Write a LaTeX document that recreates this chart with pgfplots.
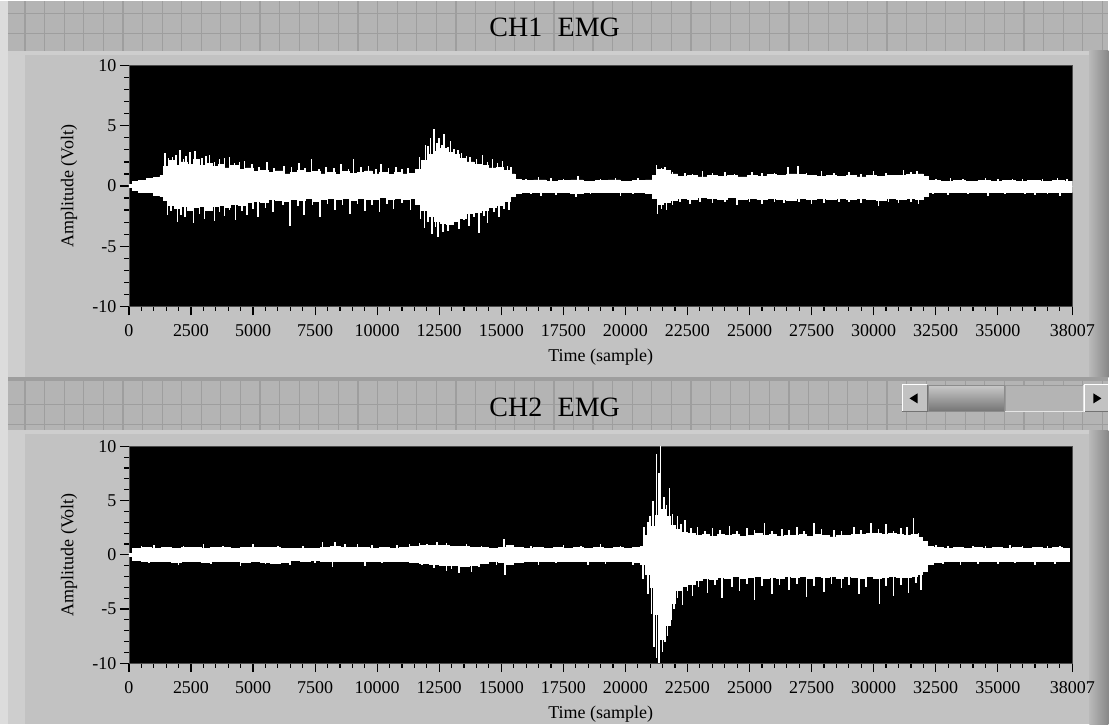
\documentclass[border=0pt]{standalone}
\usepackage{fontspec}
\setmainfont{Liberation Serif}
\usepackage{pgfplots}
\pgfplotsset{compat=1.18}
\usepackage{pgfplotstable}

\definecolor{band}{HTML}{B4B4B4}
\definecolor{gridln}{HTML}{9E9E9E}
\definecolor{panel}{HTML}{C2C2C2}
\definecolor{panelhi}{HTML}{CECECE}
\definecolor{edge}{HTML}{DCDCDC}

% CH1: core envelope of the trace (upper, lower) and individual spikes
\pgfplotstableread{
x up lo
0 0.15 -0.15
150 0.40 -0.35
400 0.45 -0.50
700 0.60 -0.55
1000 0.70 -0.75
1250 0.85 -0.90
1400 1.60 -1.20
1600 2.10 -1.60
1850 1.70 -1.90
2100 2.00 -1.70
2350 1.80 -2.00
2600 2.20 -1.80
2850 1.70 -1.70
3100 1.90 -2.00
3350 1.60 -1.70
3600 1.80 -1.60
3850 1.50 -1.80
4100 1.70 -1.50
4400 1.40 -1.60
4700 1.50 -1.40
5000 1.20 -1.30
5300 1.30 -1.40
5600 1.10 -1.10
5900 1.25 -1.20
6200 1.00 -1.30
6500 1.15 -1.10
6800 1.30 -1.20
7100 1.10 -1.00
7400 1.20 -1.25
7700 1.00 -1.10
8000 1.10 -1.00
8300 0.95 -1.15
8600 1.20 -1.05
8900 1.05 -1.20
9200 1.15 -1.00
9500 1.25 -1.15
9800 1.00 -1.10
10100 1.10 -0.95
10400 0.95 -1.10
10700 1.10 -1.00
11000 1.00 -1.15
11300 1.05 -1.05
11550 1.40 -1.50
11800 2.10 -2.00
12050 2.60 -2.50
12300 2.90 -2.90
12550 3.10 -3.10
12800 2.80 -3.20
13050 2.60 -2.90
13300 2.30 -2.70
13600 2.00 -2.30
13900 1.80 -2.20
14200 1.70 -2.00
14500 1.50 -1.80
14800 1.55 -1.60
15100 1.30 -1.30
15350 1.00 -0.90
15550 0.55 -0.60
15800 0.45 -0.55
16300 0.50 -0.50
16800 0.40 -0.55
17300 0.45 -0.50
17800 0.50 -0.60
18300 0.40 -0.50
18800 0.45 -0.55
19300 0.50 -0.50
19800 0.40 -0.55
20300 0.45 -0.50
20800 0.50 -0.60
21100 0.90 -1.00
21300 1.40 -1.50
21550 1.30 -1.40
21800 1.00 -1.20
22100 0.80 -1.00
22500 0.85 -1.10
22900 0.75 -0.95
23300 0.90 -1.05
23700 0.80 -1.15
24100 0.85 -0.95
24500 0.75 -1.10
24900 0.90 -1.00
25300 0.80 -1.15
25700 0.95 -1.05
26100 0.85 -1.10
26500 1.00 -1.20
26900 0.95 -1.05
27300 0.90 -1.15
27700 0.80 -1.00
28100 0.90 -1.10
28500 0.80 -1.05
28900 0.85 -1.15
29300 0.75 -1.00
29700 0.85 -1.10
30100 0.80 -1.20
30500 0.90 -1.05
30900 0.85 -1.10
31300 0.95 -1.00
31700 1.00 -1.10
32000 0.80 -0.90
32200 0.45 -0.55
32700 0.40 -0.50
33200 0.45 -0.55
33700 0.40 -0.50
34200 0.45 -0.55
34700 0.40 -0.50
35200 0.45 -0.55
35700 0.40 -0.50
36200 0.45 -0.55
36700 0.40 -0.50
37200 0.45 -0.55
37700 0.40 -0.50
38007 0.40 -0.50
}\chAcore

\pgfplotstableread{
x y
1450 2.7
1600 2.3
1750 2.4
1900 2.6
2050 3.0
2200 2.2
2300 2.5
2450 2.8
2650 2.9
2800 2.1
2950 2.3
3100 2.5
3250 2.6
3450 2.0
3650 2.2
3850 2.3
4050 2.4
4250 1.9
4450 2.0
4650 2.1
4950 1.8
5250 1.6
5550 2.0
5850 1.5
6250 1.7
6550 1.6
6850 1.9
7100 1.5
7350 2.2
7650 1.4
7950 1.6
8250 1.5
8550 1.8
8850 1.4
9050 2.2
9350 1.6
9650 1.7
9950 1.4
10150 1.8
10450 1.5
10750 1.6
11000 1.4
11250 1.5
11700 2.4
11950 3.4
12050 3.3
12150 4.0
12300 4.7
12400 3.6
12500 4.0
12600 3.4
12700 4.3
12850 3.2
12950 3.7
13100 3.1
13250 3.0
13400 2.7
13600 2.5
13750 2.4
14000 2.2
14250 2.6
14450 2.0
14650 2.2
14850 1.9
15050 2.1
15250 1.7
15400 1.6
16000 0.6
16500 0.75
17000 0.65
17500 0.6
18100 0.8
19000 0.6
19600 0.7
20500 0.65
21250 1.75
21450 1.5
21600 1.55
21900 1.2
22400 1.1
22700 1.0
23100 1.25
23500 1.05
24000 1.15
24400 1.0
25100 1.2
25500 1.05
26000 1.1
26550 1.55
26950 1.65
27300 1.1
27900 1.25
28400 1.05
29000 1.15
29500 1.0
30000 1.25
30500 1.1
31200 1.35
31500 1.15
31750 1.25
32500 0.55
33100 0.65
33600 0.55
34500 0.65
35000 0.6
35600 0.55
36000 0.6
36800 0.6
37400 0.7
37800 0.55
1550 -2.4
1700 -2.1
1950 -3.0
2100 -2.4
2250 -2.6
2450 -2.0
2600 -3.1
2850 -2.3
3050 -2.7
3250 -2.0
3450 -2.9
3650 -2.2
3850 -2.5
4050 -2.0
4300 -2.8
4550 -2.1
4750 -2.4
5000 -1.9
5200 -2.6
5500 -1.8
5800 -2.2
6200 -1.6
6500 -3.3
6800 -1.7
7050 -2.4
7400 -1.6
7700 -2.6
8000 -1.5
8300 -2.0
8600 -1.6
8900 -2.3
9200 -1.5
9500 -2.1
9800 -1.6
10100 -2.2
10400 -1.5
10650 -1.9
11000 -1.4
11350 -2.0
11750 -2.7
11900 -3.5
12050 -3.0
12200 -4.0
12350 -3.4
12450 -4.2
12650 -3.8
12850 -3.7
13050 -3.2
13300 -3.6
13500 -2.8
13700 -3.3
13900 -2.6
14100 -3.9
14300 -2.5
14450 -3.1
14700 -2.2
14900 -2.6
15100 -1.9
15300 -2.0
16200 -0.7
16600 -0.8
17200 -0.75
18000 -0.95
18600 -0.7
19800 -0.85
20300 -0.7
21300 -2.3
21450 -1.9
21650 -2.0
21900 -1.6
22200 -1.35
22600 -1.5
23000 -1.3
23500 -1.4
24000 -1.35
24500 -1.6
25000 -1.3
25500 -1.5
26000 -1.35
26400 -1.45
27000 -1.3
27500 -1.5
28000 -1.4
28600 -1.35
29000 -1.3
29500 -1.45
30200 -1.65
30600 -1.35
31000 -1.45
31500 -1.3
31800 -1.5
32400 -0.7
33000 -0.75
33800 -0.65
34600 -0.8
35300 -0.7
36100 -0.65
36500 -0.75
37000 -0.7
37500 -0.8
}\chAspk

% CH2: core envelope and spikes
\pgfplotstableread{
x up lo
0 0.15 -0.15
150 0.55 -0.55
500 0.65 -0.60
900 0.60 -0.65
1300 0.70 -0.60
1700 0.60 -0.70
2100 0.65 -0.60
2500 0.70 -0.65
2900 0.60 -0.70
3300 0.65 -0.60
3700 0.70 -0.65
4100 0.60 -0.65
4500 0.65 -0.70
4900 0.70 -0.60
5300 0.65 -0.70
5700 0.70 -0.75
6100 0.60 -0.70
6500 0.55 -0.55
6900 0.60 -0.60
7300 0.60 -0.55
7700 0.70 -0.60
8100 0.75 -0.65
8500 0.65 -0.60
8900 0.70 -0.65
9300 0.65 -0.60
9700 0.60 -0.65
10100 0.65 -0.60
10500 0.60 -0.65
10900 0.70 -0.60
11300 0.75 -0.70
11700 0.85 -0.75
12100 0.90 -0.85
12500 0.85 -0.95
12900 0.80 -1.00
13300 0.75 -1.05
13700 0.70 -0.95
14100 0.65 -0.80
14500 0.60 -0.65
14900 0.70 -0.70
15200 0.90 -0.90
15500 0.65 -0.70
15900 0.60 -0.60
16300 0.65 -0.65
16700 0.60 -0.60
17100 0.65 -0.65
17500 0.60 -0.60
17900 0.65 -0.65
18300 0.60 -0.60
18700 0.65 -0.65
19100 0.60 -0.60
19500 0.65 -0.65
19900 0.60 -0.60
20300 0.65 -0.70
20600 0.80 -0.90
20800 1.80 -1.80
21000 2.60 -3.00
21200 3.60 -5.50
21400 4.20 -7.80
21600 3.50 -6.50
21800 2.70 -4.50
22000 2.30 -3.30
22250 2.10 -2.90
22500 2.00 -2.70
22800 1.80 -2.40
23100 1.90 -2.20
23400 1.70 -2.30
23700 1.85 -2.10
24000 1.75 -2.20
24300 1.90 -2.00
24600 1.70 -2.20
24900 1.80 -2.10
25200 1.95 -2.00
25500 1.75 -2.15
25800 1.85 -2.05
26100 1.70 -2.20
26400 1.80 -1.95
26700 1.75 -2.10
27000 1.90 -2.00
27300 1.70 -2.15
27600 1.85 -1.95
27900 1.75 -2.10
28200 1.65 -2.00
28500 1.80 -2.15
28800 1.75 -1.95
29100 1.90 -2.05
29400 1.85 -2.20
29700 1.95 -2.00
30000 2.00 -2.15
30300 1.85 -2.10
30600 1.95 -2.00
30900 1.90 -2.10
31200 1.80 -2.05
31500 1.90 -2.00
31750 1.60 -1.80
31950 1.20 -1.50
32150 0.80 -0.90
32400 0.65 -0.70
32800 0.60 -0.65
33200 0.65 -0.60
33600 0.60 -0.65
34000 0.65 -0.60
34400 0.60 -0.65
34800 0.65 -0.60
35200 0.60 -0.65
35600 0.65 -0.60
36000 0.60 -0.65
36400 0.65 -0.60
36800 0.60 -0.65
37200 0.65 -0.60
37600 0.60 -0.65
37880 0.60 -0.65
}\chBcore

\pgfplotstableread{
x y
500 0.85
1000 0.9
2200 0.85
3000 0.95
3800 0.8
5000 0.95
6000 0.85
7000 0.8
7800 1.2
8300 1.15
8700 1.0
9200 1.0
9800 0.9
10800 0.9
11300 0.95
11700 1.1
12000 1.0
12400 1.2
12800 1.05
13600 1.0
14200 0.85
15100 1.45
16200 0.85
17500 0.9
18200 0.8
19000 0.95
19800 0.85
20750 2.6
20900 3.0
21000 3.6
21100 5.0
21250 9.3
21350 7.5
21420 10.0
21550 5.3
21650 4.6
21780 6.2
21900 3.8
22100 3.6
22250 2.8
22400 3.2
22650 2.5
22900 2.6
23200 2.2
23500 2.5
23800 2.3
24200 2.7
24500 2.2
24900 2.5
25200 2.3
25600 2.9
25900 2.2
26300 2.4
26600 2.3
26900 2.6
27200 2.2
27600 2.9
27900 2.4
28400 2.3
28700 2.2
29200 2.6
29500 2.3
29900 2.9
30200 2.4
30500 2.8
30800 2.2
31100 2.5
31350 2.6
31600 3.4
31800 2.0
32500 0.9
33000 0.8
34000 0.85
34500 0.8
35500 0.9
36000 0.85
37000 0.85
37500 0.8
800 -0.8
2000 -0.9
3300 -0.85
4500 -1.0
5500 -0.85
6500 -0.9
7500 -0.8
8200 -1.1
9500 -1.0
10200 -0.8
11800 -0.9
12300 -1.2
12800 -1.5
13000 -1.3
13300 -1.7
13800 -1.6
14100 -1.1
14800 -0.9
15140 -1.9
16500 -0.9
17200 -0.8
18500 -0.9
19200 -0.85
20300 -0.95
20700 -2.2
20900 -3.6
21050 -5.5
21150 -8.5
21250 -9.5
21350 -10.0
21500 -9.0
21600 -8.0
21700 -7.5
21850 -6.0
21950 -5.0
22100 -4.0
22300 -4.6
22500 -3.3
22700 -3.8
22950 -3.0
23300 -3.5
23600 -2.8
23900 -4.0
24300 -3.0
24600 -3.3
24900 -2.7
25200 -4.2
25500 -2.9
25900 -3.6
26200 -2.8
26600 -3.2
26900 -2.7
27300 -3.9
27600 -2.9
28000 -3.4
28300 -2.7
28700 -3.1
29000 -2.8
29400 -3.6
29700 -3.0
30230 -4.5
30500 -2.9
30800 -3.8
31100 -2.8
31400 -3.5
31700 -2.6
31900 -3.2
32800 -0.85
33500 -0.9
34200 -0.85
35000 -0.85
35700 -0.8
36500 -0.9
37300 -0.85
}\chBspk

\pgfplotsset{
  emg/.style={
    scale only axis, anchor=south west, width=944pt,
    xmin=0, xmax=38007, ymin=-10, ymax=10,
    scaled x ticks=false, scaled y ticks=false,
    axis background/.style={fill=black},
    axis line style={draw=black!70, line width=0.8pt},
    tick align=outside, xtick pos=left, ytick pos=left,
    xtick={0,2500,5000,7500,10000,12500,15000,17500,20000,22500,25000,27500,30000,32500,35000,38007},
    xticklabels={0,2500,5000,7500,10000,12500,15000,17500,20000,22500,25000,27500,30000,32500,35000,38007},
    minor xtick={500,1000,1500,2000,3000,3500,4000,4500,5500,6000,6500,7000,
      8000,8500,9000,9500,10500,11000,11500,12000,13000,13500,14000,14500,
      15500,16000,16500,17000,18000,18500,19000,19500,20500,21000,21500,22000,
      23000,23500,24000,24500,25500,26000,26500,27000,28000,28500,29000,29500,
      30500,31000,31500,32000,33000,33500,34000,34500,35500,36000,36500,37000,37500},
    ytick={-10,-5,0,5,10}, yticklabels={-10,-5,0,5,10},
    minor ytick={-9,-8,-7,-6,-4,-3,-2,-1,1,2,3,4,6,7,8,9},
    major tick length=9pt, minor tick length=4.5pt,
    every major tick/.style={black, line width=1.2pt},
    every minor tick/.style={black, line width=1.2pt},
    tick label style={font=\fontsize{18}{18}\selectfont},
    xticklabel style={yshift=-6pt},
    label style={font=\fontsize{18}{18}\selectfont},
    xlabel={Time (sample)}, ylabel={Amplitude (Volt)},
    ylabel style={at={(axis description cs:-0.0636,0.5)}, anchor=center},
    xlabel style={at={(axis description cs:0.5,0)}, yshift=-51pt, anchor=center},
  },
  core/.style={const plot, draw=white, fill=white, line width=0.8pt},
  spike/.style={ycomb, draw=white, line width=1.6pt, mark=none},
}

\begin{document}
\begin{tikzpicture}
\begin{scope}[x=1pt,y=1pt]
  \fill[edge] (0,0) rectangle (1109,724);
  % header band of CH1
  \fill[band] (8,674) rectangle (1109,724);
  \foreach \i in {0,...,55} \draw[gridln, line width=1.2pt] ({25+19.6*\i},674) -- ({25+19.6*\i},724);
  \draw[gridln, line width=1.2pt] (8,711) -- (1109,711) (8,691) -- (1109,691);
  % CH1 panel
  \fill[panel] (8,347) rectangle (1109,674);
  \fill[panelhi] (8,347) rectangle (25,674);
  \fill[panelhi] (8,670) rectangle (1090,674);
  \shade[left color=panel!95!black, right color=panel!70!black] (1090,347) rectangle (1109,674);
  \fill[gridln] (8,343) rectangle (1109,347);
  % header band of CH2
  \fill[band] (8,294) rectangle (1109,343);
  \foreach \i in {0,...,55} \draw[gridln, line width=1.2pt] ({25+19.6*\i},294) -- ({25+19.6*\i},343);
  \draw[gridln, line width=1.2pt] (8,320) -- (1109,320) (8,300) -- (1109,300);
  % CH2 panel
  \fill[panel] (8,0) rectangle (1109,294);
  \fill[panelhi] (8,0) rectangle (25,294);
  \fill[panelhi] (8,290) rectangle (1090,294);
  \shade[left color=panel!95!black, right color=panel!70!black] (1090,0) rectangle (1109,294);
  % scrollbar
  \fill[panel] (902,312) rectangle (928,340);
  \draw[white, line width=1pt] (902.5,312.5) -- (902.5,339.5) -- (927.5,339.5);
  \draw[black!55, line width=1pt] (902.5,312.5) -- (927.5,312.5) -- (927.5,339.5);
  \fill[black] (910,326) -- (918,331) -- (918,321) -- cycle;
  \shade[top color=panel!90!white, bottom color=panel!60!black] (929,313) rectangle (1005,339);
  \draw[black!45, line width=1pt] (929,313) rectangle (1005,339);
  \fill[band] (1006,313) rectangle (1084,339);
  \draw[white!90!black, line width=1pt] (1006,313) -- (1084,313) -- (1084,339);
  \draw[black!40, line width=1pt] (1006,313) -- (1006,339) -- (1084,339);
  \fill[panel] (1085,312) rectangle (1109,340);
  \draw[white, line width=1pt] (1085.5,312.5) -- (1085.5,339.5) -- (1109,339.5);
  \draw[black!55, line width=1pt] (1085.5,312.5) -- (1109,312.5);
  \fill[black] (1102,326) -- (1094,331) -- (1094,321) -- cycle;
  % panel titles
  \node[font=\fontsize{28}{28}\selectfont] at (555,697) {CH1\hspace{0.55em}EMG};
  \node[font=\fontsize{28}{28}\selectfont] at (555,317) {CH2\hspace{0.55em}EMG};
\end{scope}

% each half of the envelope is filled down to the zero line
\begin{axis}[emg, at={(129pt,418pt)}, height=241pt]
  \addplot[core] table[x=x, y=up] {\chAcore} \closedcycle;
  \addplot[core] table[x=x, y=lo] {\chAcore} \closedcycle;
  \addplot[spike] table[x=x, y=y] {\chAspk};
\end{axis}

\begin{axis}[emg, at={(129pt,61pt)}, height=217pt]
  \addplot[core] table[x=x, y=up] {\chBcore} \closedcycle;
  \addplot[core] table[x=x, y=lo] {\chBcore} \closedcycle;
  \addplot[spike] table[x=x, y=y] {\chBspk};
\end{axis}
\end{tikzpicture}
\end{document}
